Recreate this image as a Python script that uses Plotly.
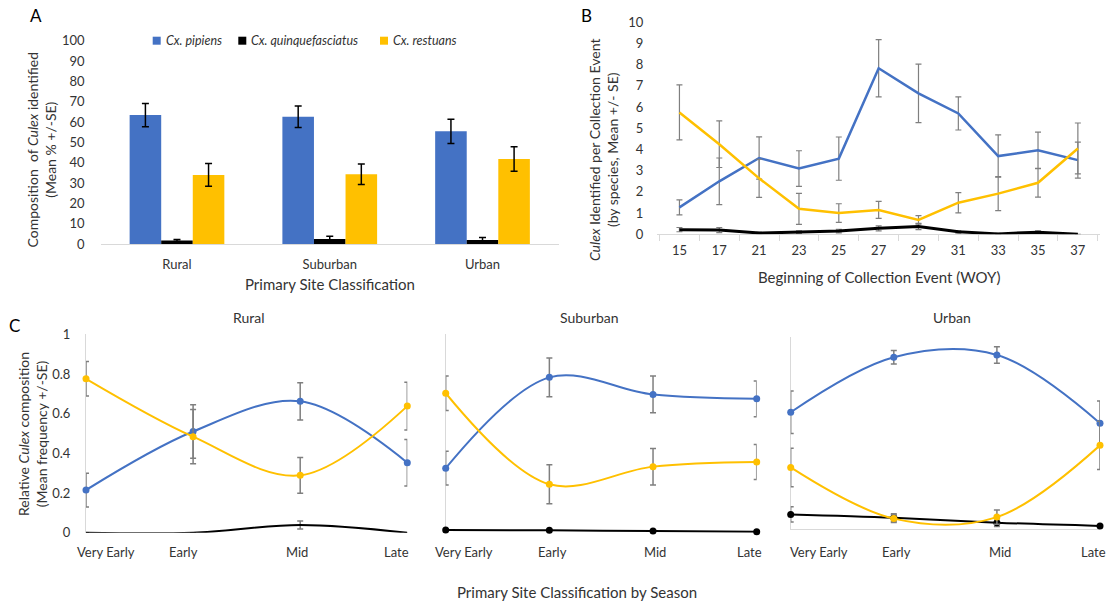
import plotly.graph_objects as go

# ---------------- data ----------------
SPECIES = ["Cx. pipiens", "Cx. quinquefasciatus", "Cx. restuans"]
COLORS = ["#4472C4", "#000000", "#FFC000"]

# Panel A
A_cats = ["Rural", "Suburban", "Urban"]
A_pip = [63.4, 62.6, 55.4]
A_pip_se = [5.7, 5.3, 6.0]
A_qui = [1.7, 2.5, 2.0]
A_qui_se = [0.5, 1.3, 1.2]
A_res = [34.0, 34.3, 41.8]
A_res_se = [5.6, 5.0, 6.0]

# Panel B
B_weeks = ["15", "17", "21", "23", "25", "27", "29", "31", "33", "35", "37"]
B_pip = [1.27, 2.5, 3.6, 3.1, 3.57, 7.83, 6.65, 5.7, 3.69, 3.96, 3.5]
B_pip_se = [0.35, 1.1, 1.0, 0.84, 1.02, 1.35, 1.38, 0.78, 1.0, 0.86, 0.85]
B_qui = [0.22, 0.2, 0.06, 0.1, 0.15, 0.28, 0.37, 0.12, 0.02, 0.1, 0.0]
B_qui_se = [0.1, 0.12, 0.03, 0.06, 0.08, 0.12, 0.15, 0.06, 0.02, 0.06, 0.0]
B_res = [5.75, 4.25, 2.64, 1.2, 1.0, 1.15, 0.68, 1.49, 1.92, 2.43, 4.05]
B_res_se = [1.3, 1.1, 0.9, 0.73, 0.44, 0.4, 0.2, 0.48, 0.8, 0.68, 1.2]

# Panel C
C_seasons = ["Very Early", "Early", "Mid", "Late"]
C_sites = ["Rural", "Suburban", "Urban"]
C_pip = {"Rural": [0.215, 0.51, 0.662, 0.353],
         "Suburban": [0.325, 0.783, 0.697, 0.675],
         "Urban": [0.607, 0.893, 0.905, 0.55]}
C_pip_se = {"Rural": [0.085, 0.135, 0.094, 0.117],
            "Suburban": [0.085, 0.098, 0.093, 0.09],
            "Urban": [0.11, 0.035, 0.043, 0.115]}
C_qui = {"Rural": [0.0, 0.0, 0.039, 0.0],
         "Suburban": [0.013, 0.012, 0.008, 0.005],
         "Urban": [0.076, 0.059, 0.033, 0.016]}
C_qui_se = {"Rural": [0.0, 0.0, 0.02, 0.0],
            "Suburban": [0.0, 0.0, 0.0, 0.0],
            "Urban": [0.04, 0.02, 0.02, 0.0]}
C_res = {"Rural": [0.776, 0.484, 0.289, 0.638],
         "Suburban": [0.703, 0.244, 0.333, 0.356],
         "Urban": [0.32, 0.054, 0.062, 0.435]}
C_res_se = {"Rural": [0.087, 0.137, 0.09, 0.12],
            "Suburban": [0.087, 0.098, 0.092, 0.088],
            "Urban": [0.1, 0.02, 0.037, 0.125]}

# ---------------- figure ----------------
W, H = 1110, 605
FONT = "Lato"
TXT = "#333333"


def xd(a, b):
    return [a / W, b / W]


def yd(top, bottom):
    return [1 - bottom / H, 1 - top / H]


fig = go.Figure()

# Panel A bars
for name, vals, se, col in zip(SPECIES, [A_pip, A_qui, A_res], [A_pip_se, A_qui_se, A_res_se], COLORS):
    fig.add_trace(go.Bar(
        x=A_cats, y=vals, name=name, marker_color=col, marker_line_width=0,
        error_y=dict(type="data", array=se, color="#000000", thickness=1.5, width=3.5),
        xaxis="x", yaxis="y", showlegend=False))

# Panel B lines
for name, vals, se, col, lw in zip(SPECIES, [B_pip, B_qui, B_res], [B_pip_se, B_qui_se, B_res_se], COLORS, [2.5, 3, 2.5]):
    fig.add_trace(go.Scatter(
        x=B_weeks, y=vals, name=name, mode="lines", line=dict(color=col, width=lw),
        error_y=dict(type="data", array=se, color="#7f7f7f", thickness=1.2, width=3),
        xaxis="x2", yaxis="y2", showlegend=False, cliponaxis=False))

# Panel C lines
for i, site in enumerate(C_sites):
    ax = str(3 + i)
    for name, vals, se, col, key in zip(SPECIES, [C_pip, C_qui, C_res], [C_pip_se, C_qui_se, C_res_se], COLORS, ["p", "q", "r"]):
        show_markers = not (site == "Rural" and key == "q")
        fig.add_trace(go.Scatter(
            x=C_seasons, y=vals[site], name=name, mode="lines+markers" if show_markers else "lines",
            line=dict(color=col, width=2, shape="spline", smoothing=1.0),
            marker=dict(color=col, size=7),
            error_y=dict(type="data", array=se[site], color="#7f7f7f", thickness=1.5, width=3,
                         visible=any(v > 0 for v in se[site])),
            xaxis="x" + ax, yaxis="y" + ax, showlegend=False, cliponaxis=False))

tickfont = dict(family=FONT, size=13, color=TXT)

fig.update_layout(
    width=W, height=H,
    margin=dict(l=0, r=0, t=0, b=0, autoexpand=False),
    paper_bgcolor="white", plot_bgcolor="white",
    font=dict(family=FONT, size=13, color=TXT),
    barmode="group", bargap=0.38, bargroupgap=0.0,
    showlegend=False,
    # Panel A
    xaxis=dict(domain=xd(100.6, 558.9), type="category", showline=True, linecolor="#d9d9d9", linewidth=1,
               ticks="", tickfont=tickfont, ticklabelstandoff=8, showgrid=False, anchor="y",
               automargin=False, layer="below traces"),
    yaxis=dict(domain=yd(40.7, 244), range=[0, 100], dtick=10, showgrid=False, showline=False,
               zeroline=False, ticks="", tickfont=tickfont, ticklabelstandoff=15, anchor="x",
               automargin=False),
    # Panel B
    xaxis2=dict(domain=xd(657.3, 1100), type="category", showline=True, linecolor="#d9d9d9", linewidth=1,
                ticks="outside", tickson="boundaries", ticklen=6, tickcolor="#d9d9d9",
                tickfont=tickfont, ticklabelstandoff=4, showgrid=False, anchor="y2", automargin=False,
                layer="below traces"),
    yaxis2=dict(domain=yd(22.3, 234.3), range=[0, 10], dtick=1, showgrid=False, showline=False,
                zeroline=False, ticks="", tickfont=tickfont, ticklabelstandoff=13, anchor="x2",
                automargin=False),
)

c_x = [xd(86, 407.3), xd(445.7, 756.7), xd(790.7, 1100)]
c_y = [yd(334.3, 532.7), yd(334.3, 532.7), yd(336.7, 529)]
for i in range(3):
    n = str(3 + i)
    fig.update_layout(**{
        "xaxis" + n: dict(domain=c_x[i], type="category", range=[0, 3], showline=(i == 2),
                          linecolor="#d9d9d9", linewidth=1, ticks="", showticklabels=False,
                          showgrid=False, zeroline=False, anchor="y" + n, automargin=False,
                          layer="below traces"),
        "yaxis" + n: dict(domain=c_y[i], range=[0, 1], dtick=0.2, showgrid=False, showline=True,
                          linecolor="#d9d9d9", linewidth=1, zeroline=False, ticks="",
                          showticklabels=(i == 0), tickfont=tickfont, ticklabelstandoff=12,
                          anchor="x" + n, automargin=False, layer="below traces"),
    })

ann = []
shapes = []


def add(text, x, y, size=14, angle=0, color=TXT, xanchor="center"):
    ann.append(dict(text=text, x=x / W, y=1 - y / H, xref="paper", yref="paper", showarrow=False,
                    textangle=angle, font=dict(family=FONT, size=size, color=color),
                    xanchor=xanchor, yanchor="middle"))


# panel letters and titles
add("A", 36, 15, size=17, color="#000000")
add("B", 586, 15, size=17, color="#000000")
add("C", 14, 325, size=17, color="#000000")
add("Composition  of <i>Culex</i> identified<br>(Mean % +/-SE)", 40.5, 150, size=14, angle=-90)
add("Primary Site Classification", 329.6, 284, size=15)
add("<i>Culex</i> Identified per Collection Event<br>(by species, Mean +/- SE)", 603, 150, size=14, angle=-90)
add("Beginning of Collection Event (WOY)", 879, 277, size=15)
add("Relative <i>Culex</i> composition<br>(Mean frequency +/-SE)", 32, 434, size=14, angle=-90)
add("Primary Site Classification by Season", 577, 592, size=15)
for site, cx in zip(C_sites, [249, 589, 952]):
    add(site, cx, 317, size=14)

# legend for panel A (square + italic label)
for name, col, sq_left, txt_left in zip(SPECIES, COLORS, [152.7, 238.3, 380], [163.5, 248.5, 391]):
    shapes.append(dict(type="rect", xref="paper", yref="paper", x0=sq_left / W, x1=(sq_left + 8) / W,
                       y0=1 - 44.7 / H, y1=1 - 36.7 / H, fillcolor=col, line_width=0))
    add("<i>" + name + "</i>", txt_left, 40.7, size=12.5, xanchor="left")

# category labels for panel C (placed under each season point)
label_shift = {"Rural": [20, -10, -3, -11], "Suburban": [18, 3, 2, -7], "Urban": [28, 3, 3, -7]}
label_drop = {"Rural": 19, "Suburban": 19, "Urban": 23}
for i, site in enumerate(C_sites):
    n = str(3 + i)
    for season, dx in zip(C_seasons, label_shift[site]):
        ann.append(dict(text=season, x=season, y=0, xref="x" + n, yref="y" + n, showarrow=False,
                        xshift=dx, yshift=-label_drop[site], xanchor="center", yanchor="middle",
                        font=dict(family=FONT, size=13, color=TXT)))

fig.update_layout(annotations=ann, shapes=shapes)

fig.write_html("out.html")
